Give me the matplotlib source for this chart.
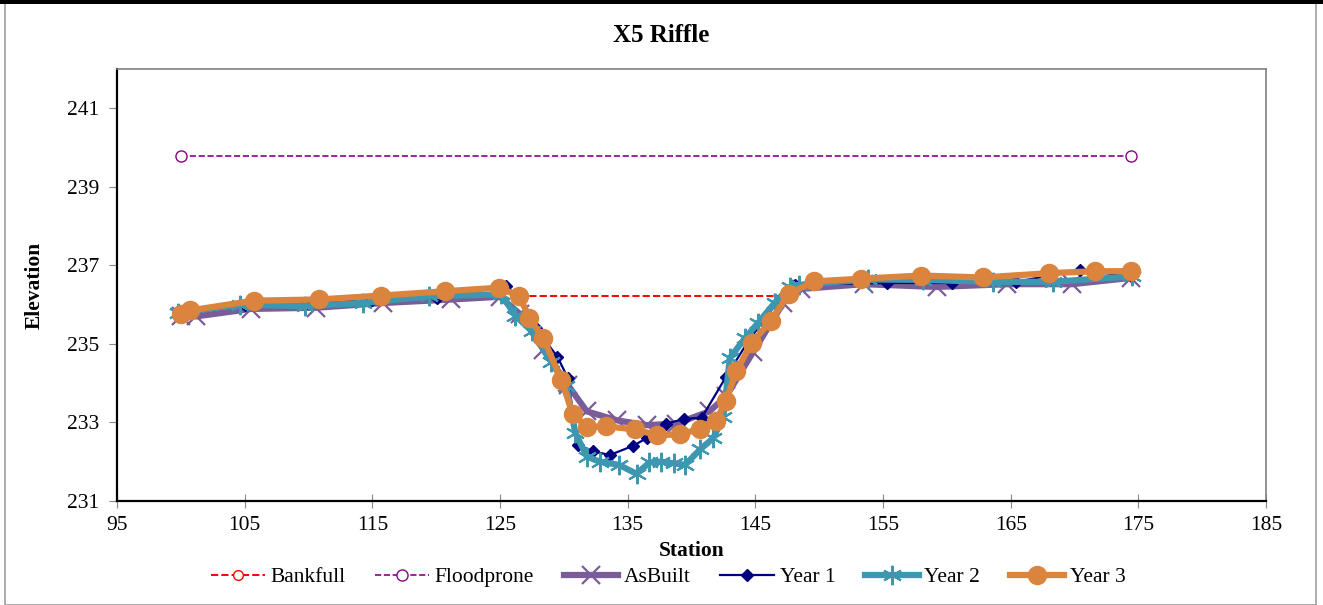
import matplotlib.pyplot as plt
from matplotlib.patches import Rectangle

plt.rcParams['font.family'] = ['Liberation Serif', 'DejaVu Serif']

# ---- data ----
bankfull_x = [126.5, 147.6]
bankfull_y = [236.22, 236.22]

flood_x = [100.0, 174.4]
flood_y = [239.78, 239.78]

asbuilt_x = [100.0, 101.2, 105.5, 110.6, 115.8, 121.2, 125.0, 126.6, 128.4,
             130.3, 131.8, 134.2, 136.5, 138.8, 141.4, 142.7, 144.8, 147.2,
             148.6, 153.5, 159.2, 164.7, 169.8, 174.4]
asbuilt_y = [235.72, 235.70, 235.89, 235.92, 236.04, 236.13, 236.20, 235.75, 234.85,
             233.96, 233.28, 233.05, 232.93, 232.97, 233.28, 233.66, 234.78, 236.05,
             236.40, 236.52, 236.45, 236.52, 236.52, 236.68]

year1_x = [100.0, 105.0, 110.0, 115.0, 120.1, 125.5, 126.5, 127.8, 129.5,
           130.3, 131.1, 132.3, 133.6, 135.4, 136.5, 138.0, 139.4, 140.8,
           142.7, 144.5, 146.7, 148.1, 155.3, 160.4, 165.4, 170.4, 174.4]
year1_y = [235.75, 236.00, 236.05, 236.12, 236.18, 236.47, 236.15, 235.40, 234.67,
           234.14, 232.43, 232.26, 232.17, 232.40, 232.60, 232.96, 233.09, 233.12,
           234.16, 235.10, 236.05, 236.51, 236.55, 236.55, 236.58, 236.88, 236.72]

year2_x = [99.8, 104.6, 109.7, 114.3, 119.4, 125.1, 126.2, 127.5, 129.0,
           130.2, 130.9, 131.8, 132.8, 134.3, 135.7, 136.7, 137.6, 138.6,
           139.5, 140.7, 141.7, 142.5, 143.0, 144.2, 145.2, 146.5, 147.7,
           148.4, 153.8, 158.1, 163.6, 168.3, 174.5]
year2_y = [235.79, 236.00, 235.96, 236.04, 236.21, 236.26, 235.72, 235.32, 234.55,
           233.92, 232.73, 232.13, 232.00, 231.92, 231.69, 231.98, 232.00, 231.96,
           231.92, 232.32, 232.60, 233.15, 234.64, 235.15, 235.53, 236.04, 236.45,
           236.50, 236.64, 236.63, 236.58, 236.58, 236.72]

year3_x = [100.0, 100.7, 105.7, 110.8, 115.7, 120.7, 124.9, 126.5, 127.3,
           128.4, 129.8, 130.7, 131.8, 133.3, 135.6, 137.3, 139.1, 140.7,
           141.9, 142.7, 143.5, 144.7, 146.2, 147.6, 149.6, 153.3, 158.0,
           162.8, 168.0, 171.6, 174.4]
year3_y = [235.76, 235.85, 236.10, 236.13, 236.23, 236.34, 236.43, 236.22, 235.66,
           235.14, 234.09, 233.21, 232.88, 232.90, 232.82, 232.67, 232.70, 232.83,
           233.03, 233.55, 234.30, 235.02, 235.58, 236.27, 236.59, 236.66, 236.74,
           236.69, 236.80, 236.85, 236.85]

x_ticks = list(range(95, 186, 10))
y_ticks = [231, 233, 235, 237, 239, 241]

# ---- figure ----
fig = plt.figure(figsize=(13.23, 6.05), dpi=100)
ax = fig.add_axes([0.0884, 0.172, 0.8686, 0.714])

# chart frame like the spreadsheet export
fig.patches.append(Rectangle((0.004, 0.0), 0.991, 0.997, transform=fig.transFigure,
                             fill=False, edgecolor='#a0a0a0', linewidth=1.2))
fig.patches.append(Rectangle((0.0, 0.994), 1.0, 0.006, transform=fig.transFigure,
                             facecolor='black', edgecolor='none'))

ax.plot(bankfull_x, bankfull_y, color='red', linestyle='--', linewidth=1.4,
        marker='o', markersize=7, markerfacecolor='white', markeredgecolor='red',
        markevery=[], label='Bankfull')
ax.plot(flood_x, flood_y, color='#8B008B', linestyle='--', linewidth=1.2,
        marker='o', markersize=8, markerfacecolor='white', markeredgecolor='#8B008B',
        label='Floodprone')
ax.plot(asbuilt_x, asbuilt_y, color='#7A5C99', linewidth=4.5,
        marker='x', markersize=13, markeredgewidth=1.6, label='AsBuilt')
ax.plot(year1_x, year1_y, color='#000080', linewidth=1.6,
        marker='D', markersize=6, label='Year 1')
ax.plot(year2_x, year2_y, color='#3E97B0', linewidth=4.5,
        marker=(6, 2, 0), markersize=14, markeredgewidth=1.5, label='Year 2')
ax.plot(year3_x, year3_y, color='#DB843D', linewidth=4.5,
        marker='o', markersize=13, label='Year 3')

ax.set_xlim(95, 185)
ax.set_ylim(231, 242)
ax.set_xticks(x_ticks)
ax.set_yticks(y_ticks)
ax.tick_params(axis='both', labelsize=15.5, direction='out', color='#888888', length=6)
ax.tick_params(axis='x', direction='inout', length=10, pad=6)
ax.tick_params(axis='y', pad=7)

for side in ['left', 'bottom']:
    ax.spines[side].set_color('black')
    ax.spines[side].set_linewidth(1.6)
for side in ['top', 'right']:
    ax.spines[side].set_color('#808080')
    ax.spines[side].set_linewidth(1.2)

fig.suptitle('X5 Riffle', x=0.5, y=0.942, va='center', fontsize=18, fontweight='bold')
ax.set_xlabel('Station', fontsize=15.5, fontweight='bold', labelpad=4)
ax.set_ylabel('Elevation', fontsize=15.5, fontweight='bold', labelpad=16)

ax.legend(loc='center', bbox_to_anchor=(0.505, 0.046), bbox_transform=fig.transFigure,
          ncol=6, frameon=False, fontsize=15.5, handlelength=2.5, handletextpad=0.25,
          columnspacing=1.4, borderaxespad=0)

fig.savefig('out.png', dpi=100)
